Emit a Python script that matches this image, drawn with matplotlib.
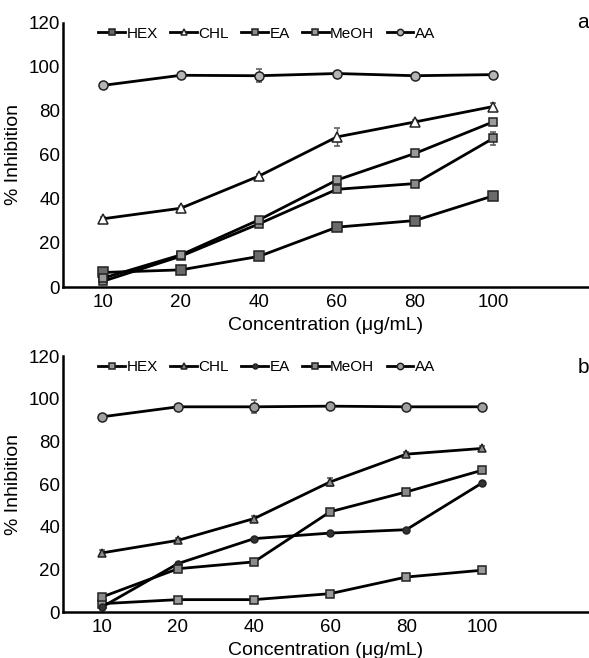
import matplotlib
matplotlib.use("Agg")
import matplotlib.pyplot as plt

plt.rcParams["font.family"] = ["Liberation Sans", "DejaVu Sans"]

conc_labels = ["10", "20", "40", "60", "80", "100"]
series_names = ["HEX", "CHL", "EA", "MeOH", "AA"]

# panel a
a_hex = [6.6, 7.8, 13.9, 27.2, 30.2, 41.4]
a_chl = [31.0, 35.8, 50.4, 68.2, 75.0, 82.0]
a_ea = [2.6, 14.0, 28.7, 44.4, 47.0, 67.5]
a_meoh = [4.0, 14.6, 30.5, 48.6, 60.7, 75.0]
a_aa = [91.6, 96.2, 96.0, 97.0, 96.0, 96.5]
a_err_chl = [1.0, 1.0, 1.0, 4.0, 1.0, 1.5]
a_err_ea = [0.8, 0.8, 1.0, 1.0, 1.0, 3.0]
a_err_meoh = [0.8, 1.0, 1.0, 1.0, 1.0, 1.5]
a_err_aa = [1.0, 1.0, 3.0, 1.0, 1.0, 1.0]

# panel b
b_hex = [3.9, 5.8, 5.8, 8.6, 16.4, 19.6]
b_chl = [27.7, 33.6, 43.8, 61.0, 74.0, 76.7]
b_ea = [2.3, 22.7, 34.4, 37.0, 38.6, 60.6]
b_meoh = [7.0, 20.3, 23.5, 47.0, 56.3, 66.5]
b_aa = [91.5, 96.2, 96.2, 96.5, 96.2, 96.2]
b_err_chl = [1.5, 1.0, 1.0, 2.0, 1.0, 1.0]
b_err_aa = [1.0, 1.0, 3.0, 1.0, 1.0, 1.0]

x = list(range(len(conc_labels)))


def draw_panel(ax, data, errs, styles, letter, letter_y, xmax):
    for name, vals, err, (mk, fc, ms) in zip(series_names, data, errs, styles):
        ax.errorbar(x, vals, yerr=err, color="black", lw=2.0, marker=mk,
                    markerfacecolor=fc, markeredgecolor="#222222",
                    markeredgewidth=1.1, markersize=ms, elinewidth=1,
                    ecolor="#555555", capsize=2, label=name)
    ax.set_xlim(-0.51, xmax)
    ax.set_ylim(0, 120)
    ax.set_yticks(range(0, 121, 20))
    ax.set_xticks(x)
    ax.set_xticklabels(conc_labels)
    ax.tick_params(length=0, labelsize=13.5)
    ax.tick_params(axis="y", pad=2)
    ax.tick_params(axis="x", pad=5)
    for s in ["top", "right"]:
        ax.spines[s].set_visible(False)
    for s in ["left", "bottom"]:
        ax.spines[s].set_linewidth(1.8)
    ax.set_ylabel("% Inhibition", fontsize=14)
    ax.yaxis.set_label_coords(-0.078, 0.5)
    ax.set_xlabel("Concentration (\u03bcg/mL)", fontsize=14, labelpad=4)
    handles, labels = ax.get_legend_handles_labels()
    handles = [h[0] for h in handles]
    ax.legend(handles, labels, loc="upper left", bbox_to_anchor=(0.05, 1.02),
              ncol=5, frameon=False, fontsize=11, markerscale=0.7,
              handlelength=1.75, handletextpad=0.1, columnspacing=0.8,
              borderaxespad=0.2)
    ax.text(1.0, letter_y, letter, transform=ax.transAxes, fontsize=15,
            ha="right", va="center")


fig = plt.figure(figsize=(5.89, 6.58), dpi=100)
ax_a = fig.add_axes([0.107, 0.5638, 0.893, 0.4014])
ax_b = fig.add_axes([0.107, 0.0699, 0.893, 0.389])

styles_a = [("s", "#6a6a6a", 6.5), ("^", "white", 6.5), ("s", "#8a8a8a", 6),
            ("s", "#9a9a9a", 6), ("o", "#b5b5b5", 6.5)]
styles_b = [("s", "#9a9a9a", 6), ("^", "#8a8a8a", 6), ("o", "#333333", 5),
            ("s", "#8a8a8a", 6), ("o", "#a0a0a0", 6.5)]

draw_panel(ax_a, [a_hex, a_chl, a_ea, a_meoh, a_aa],
           [None, a_err_chl, a_err_ea, a_err_meoh, a_err_aa], styles_a,
           "a", 1.0, 6.23)
draw_panel(ax_b, [b_hex, b_chl, b_ea, b_meoh, b_aa],
           [None, b_err_chl, None, None, b_err_aa], styles_b,
           "b", 0.957, 6.4)

fig.savefig("out.png", dpi=100)
